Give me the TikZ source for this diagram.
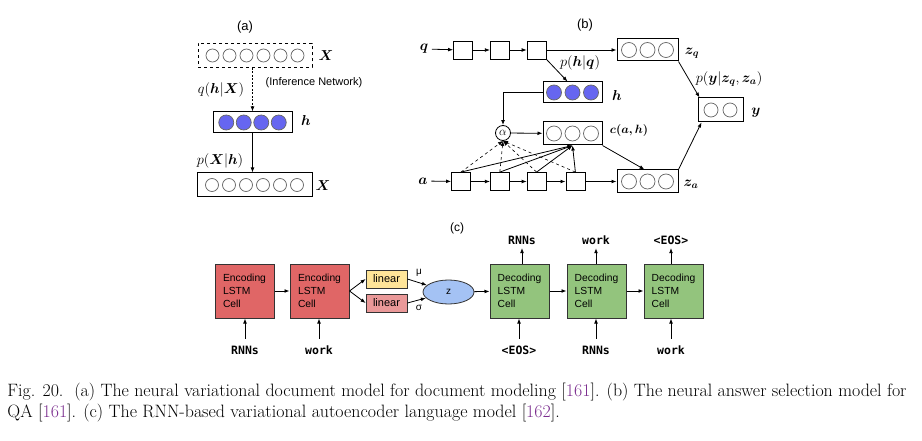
\documentclass[tikz,border=0pt]{standalone}
\usepackage{fontspec}
\setsansfont{Liberation Sans}
\setmonofont{DejaVu Sans Mono}
\usepackage{bm}
\usetikzlibrary{positioning,calc,shapes.geometric,arrows.meta}
\definecolor{encred}{HTML}{E06666}
\definecolor{decgreen}{HTML}{93C47D}
\definecolor{linyel}{HTML}{FFE599}
\definecolor{linpink}{HTML}{EA9999}
\definecolor{zblue}{HTML}{A4C2F4}
\definecolor{hidblue}{HTML}{6666F0}
\definecolor{citep}{HTML}{7B2D8E}

\begin{document}
\begin{tikzpicture}[
        x=1pt, y=-1pt, % 1 pt = 1 px, ось y вниз
        line width=0.8pt,
        >={Latex[length=5pt, width=3.8pt]}, % наконечник стрелок
        vec/.style = {draw, rectangle, line width=1pt, inner sep=0pt}, % слой с нейронами
        unit/.style = {circle, draw=black!60, line width=0.7pt, inner sep=0pt},
        cell/.style = {draw, minimum width=19pt, minimum height=18pt, inner sep=0pt},
        lbl/.style = {font=\fontsize{14}{14}\selectfont},
        tit/.style = {font=\sffamily\fontsize{13}{13}\selectfont},
        lstm/.style = {draw=black!80, line width=1pt, minimum width=59pt, minimum height=54pt,
                align=left, font=\sffamily\fontsize{10.3}{13}\selectfont}, % ячейка LSTM
        lin/.style = {draw=black!80, minimum width=41pt, minimum height=18pt, inner sep=0pt,
                font=\sffamily\fontsize{11}{11}\selectfont},
        tok/.style = {font=\ttfamily\bfseries\fontsize{11.5}{12}\selectfont},
    ]
    \useasboundingbox (0,0) rectangle (922,441);

    % (a)
    \node[tit] (tita) at (245,27) {(a)};
    \node[vec, dashed, minimum width=114pt, minimum height=24pt] (xin) at (255,55.5) {};
    \node[lbl] (xinl) at (326,56) {$\bm{X}$};
    \node[vec, minimum width=79pt, minimum height=21pt] (ha) at (252.5,122.5) {};
    \node[lbl] (hal) at (306,121) {$\bm{h}$};
    \node[vec, minimum width=115pt, minimum height=24pt] (xout) at (254.5,185) {};
    \node[lbl] (xoutl) at (323,186) {$\bm{X}$};
    \node[lbl] (qhx) at (221,90) {$q(\bm{h}|\bm{X})$};
    \node[font=\sffamily\fontsize{11}{11}\selectfont] (inf) at (314,83) {(Inference Network)};
    \node[lbl] (pxh) at (220,161) {$p(\bm{X}|\bm{h})$};
    \draw[->, dash pattern=on 2pt off 1.5pt] (xin.south -| ha.north) -- (ha.north);
    \draw[->] (ha.south) -- (xout.north -| ha.south);

    % (b)
    \node[tit] (titb) at (585,25) {(b)};
    \node[lbl] (q) at (424,49) {$\bm{q}$};
    \node[cell] (q1) at (463,50) {};
    \node[cell, right=17pt of q1] (q2) {};
    \node[cell, right=17pt of q2] (q3) {};
    \node[vec, minimum width=61pt, minimum height=22pt] (zq) at (647.5,50) {};
    \node[lbl] (zql) at (692,53) {$\bm{z_q}$};
    \node[lbl] (phq) at (580,63) {$p(\bm{h}|\bm{q})$};
    \node[vec, minimum width=59pt, minimum height=21pt] (hb) at (572.5,92.5) {};
    \node[lbl] (hbl) at (617,96) {$\bm{h}$};
    \node[circle, draw, inner sep=0pt, minimum size=15pt, font=\fontsize{12}{12}\selectfont] (al) at (503,133) {$\alpha$};
    \node[vec, minimum width=59pt, minimum height=23pt] (cb) at (572.5,133.5) {};
    \node[font=\fontsize{11.5}{11.5}\selectfont] (cbl) at (629,131) {$\bm{c(a,h)}$};
    \node[lbl] (a) at (423,181) {$\bm{a}$};
    \node[cell] (a1) at (461,181.5) {};
    \node[cell, right=19pt of a1] (a2) {};
    \node[cell, right=17pt of a2] (a3) {};
    \node[cell, right=19pt of a3] (a4) {};
    \node[vec, minimum width=61pt, minimum height=23pt] (za) at (647.5,181.5) {};
    \node[lbl] (zal) at (691,184) {$\bm{z_a}$};
    \node[vec, minimum width=45pt, minimum height=24pt] (yb) at (720.5,110) {};
    \node[lbl] (ybl) at (756,113) {$\bm{y}$};
    \node[lbl] (pyz) at (729,79) {$p(\bm{y}|\bm{z_q},\bm{z_a})$};

    % нейроны внутри слоёв
    \foreach \b/\n/\s/\d/\f in {xin/6/17/13/white, xout/6/17/13/white, ha/4/17.5/15/hidblue,
            zq/3/18.5/15/white, hb/3/18.5/15/hidblue, cb/3/18.5/15/white, za/3/18.5/15/white, yb/2/19/14/white}
        \foreach \i in {1,...,\n}
            \node[unit, fill=\f, minimum size=\d pt] at ($(\b)+({(\i-(\n+1)/2)*\s},0)$) {};

    \draw[->] (q) -- (q1);
    \draw[->] (q1) -- (q2);
    \draw[->] (q2) -- (q3);
    \draw[->] (q3) -- (zq);
    \draw[->] (q3.south east) -- ([xshift=-5pt]hb.north);
    \draw[->] (hb.west) -| (al.north);
    \draw[->] (al) -- (cb);
    \draw[->] (a) -- (a1);
    \draw[->] (a1) -- (a2);
    \draw[->] (a2) -- (a3);
    \draw[->] (a3) -- (a4);
    \draw[->] (a4) -- (za);
    \foreach \c in {a1,a2,a3,a4} {
        \draw[->, dashed, line width=0.6pt] (\c.north) -- (al.south);
        \draw[->] (\c.north) -- (cb.south);
    }
    \draw[->] (cb.south east) -- ([xshift=-3pt]za.north);
    \draw[->] (zq.south east) -- ([xshift=2pt]yb.north west);
    \draw[->] (za.north east) -- ([xshift=4pt]yb.south west);

    % (c)
    \node[tit, font=\sffamily\fontsize{12}{12}\selectfont] (titc) at (457,228) {(c)};
    \node[lstm, fill=encred] (enc1) at (244.5,291) {Encoding\\LSTM\\Cell};
    \node[lstm, fill=encred, right=15pt of enc1] (enc2) {Encoding\\LSTM\\Cell};
    \node[lin, fill=linyel] (lin1) at (386.5,279) {linear};
    \node[lin, fill=linpink] (lin2) at (386.5,303) {linear};
    \node[font=\sffamily\fontsize{10}{10}\selectfont] (mu) at (419,273) {μ};
    \node[font=\sffamily\fontsize{10}{10}\selectfont] (sig) at (419,308) {σ};
    \node[ellipse, draw=black!80, fill=zblue, minimum width=51pt, minimum height=24pt, inner sep=0pt,
        font=\sffamily\fontsize{10}{10}\selectfont] (z) at (448.5,292) {z};
    \node[lstm, fill=decgreen] (dec1) at (519.5,291) {Decoding\\LSTM\\Cell};
    \node[lstm, fill=decgreen, right=17pt of dec1] (dec2) {Decoding\\LSTM\\Cell};
    \node[lstm, fill=decgreen, right=17pt of dec2] (dec3) {Decoding\\LSTM\\Cell};
    \node[tok] (in1) at (245,350) {RNNs};
    \node[tok] (in2) at (319,350) {work};
    \node[tok] (in3) at (519,350) {<EOS>};
    \node[tok] (in4) at (596,350) {RNNs};
    \node[tok] (in5) at (671,350) {work};
    \node[tok] (out1) at (522,240) {RNNs};
    \node[tok] (out2) at (596,240) {work};
    \node[tok] (out3) at (671,240) {<EOS>};

    \draw[->] (enc1) -- (enc2);
    \draw[->] (enc2.east) -- (lin1.west);
    \draw[->] (enc2.east) -- (lin2.west);
    \draw[->] (lin1.east) -- (z);
    \draw[->] (lin2.east) -- (z);
    \draw[->] (z) -- (dec1);
    \draw[->] (dec1) -- (dec2);
    \draw[->] (dec2) -- (dec3);
    \foreach \t/\c in {in1/enc1, in2/enc2, in3/dec1, in4/dec2, in5/dec3}
        \draw[->, shorten <=3pt] (\t.north) -- (\t.north |- \c.south);
    \foreach \c/\t in {dec1/out1, dec2/out2, dec3/out3}
        \draw[->] (\t.south |- \c.north) -- (\t.south);

    % подпись
    \node[anchor=north west, align=left, inner sep=0pt, font=\fontsize{17.9}{21}\selectfont] (cap) at (7,383)
        {Fig. 20.\ \ (a) The neural variational document model for document modeling [\textcolor{citep}{161}]. (b) The neural answer selection model for\\
         QA [\textcolor{citep}{161}]. (c) The RNN-based variational autoencoder language model [\textcolor{citep}{162}].};
\end{tikzpicture}
\end{document}
